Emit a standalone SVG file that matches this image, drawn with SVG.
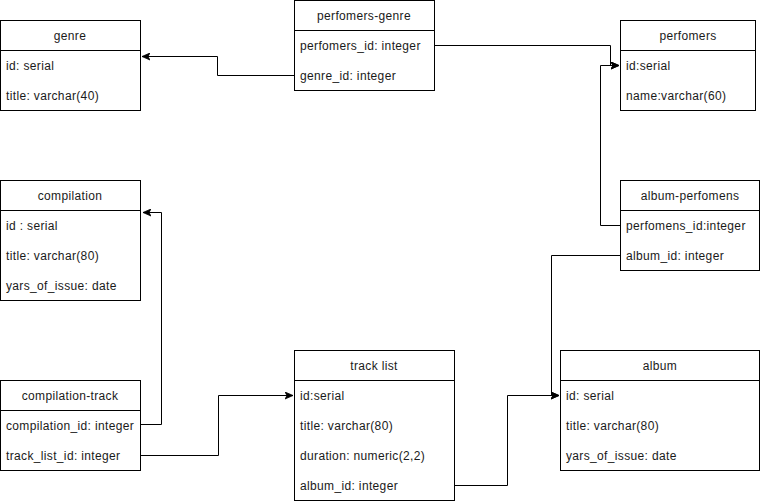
<svg xmlns="http://www.w3.org/2000/svg" width="761" height="501" viewBox="0 0 761 501">
<defs>
<marker id="arr" markerWidth="9" markerHeight="8" refX="8" refY="4" orient="auto" markerUnits="userSpaceOnUse">
<path d="M0,0.5 L8,4 L0,7.5 L2,4 Z" fill="#000" stroke="#000" stroke-width="0.8"/>
</marker>
<style>
.box{fill:#fff;stroke:#000;stroke-width:1}
.hl{stroke:#000;stroke-width:1}
.t{font-family:"Liberation Sans",Arial,Helvetica,sans-serif;font-size:12px;letter-spacing:0.35px;fill:#1a1a1a}
.c{text-anchor:middle}
.e{fill:none;stroke:#000;stroke-width:1;marker-end:url(#arr)}
</style>
</defs>
<rect width="761" height="501" fill="#fff"/>
<g id="connectors">
<path class="e" d="M294,75.5 H217.5 V56.5 H142"/>
<path class="e" d="M434,45.5 H610.5 V65.5 H619"/>
<path class="e" d="M620,225.5 H600.5 V65.5 H619"/>
<path class="e" d="M620,255.5 H551.5 V395.5 H559"/>
<path class="e" d="M454,485.5 H507.5 V395.5 H559"/>
<path class="e" d="M140,424.5 H161.5 V212.5 H143"/>
<path class="e" d="M140,455.5 H218.5 V395.5 H293"/>
</g>
<g id="genre">
<rect class="box" x="0.5" y="20.5" width="140" height="90"/>
<line class="hl" x1="0.5" y1="50.5" x2="140.5" y2="50.5"/>
<text class="t c" x="70" y="40">genre</text>
<text class="t" x="6" y="70">id: serial</text>
<text class="t" x="6" y="100">title: varchar(40)</text>
</g>
<g id="perfomers-genre">
<rect class="box" x="294.5" y="0.5" width="140" height="90"/>
<line class="hl" x1="294.5" y1="30.5" x2="434.5" y2="30.5"/>
<text class="t c" x="364" y="20">perfomers-genre</text>
<text class="t" x="300" y="50">perfomers_id: integer</text>
<text class="t" x="300" y="80">genre_id: integer</text>
</g>
<g id="perfomers">
<rect class="box" x="620.5" y="20.5" width="135" height="90"/>
<line class="hl" x1="620.5" y1="50.5" x2="755.5" y2="50.5"/>
<text class="t c" x="688" y="40">perfomers</text>
<text class="t" x="626" y="70">id:serial</text>
<text class="t" x="626" y="100">name:varchar(60)</text>
</g>
<g id="compilation">
<rect class="box" x="0.5" y="180.5" width="140" height="120"/>
<line class="hl" x1="0.5" y1="210.5" x2="140.5" y2="210.5"/>
<text class="t c" x="70" y="200">compilation</text>
<text class="t" x="6" y="230">id : serial</text>
<text class="t" x="6" y="260">title: varchar(80)</text>
<text class="t" x="6" y="290">yars_of_issue: date</text>
</g>
<g id="album-perfomens">
<rect class="box" x="620.5" y="180.5" width="139" height="90"/>
<line class="hl" x1="620.5" y1="210.5" x2="759.5" y2="210.5"/>
<text class="t c" x="690" y="200">album-perfomens</text>
<text class="t" x="626" y="230">perfomens_id:integer</text>
<text class="t" x="626" y="260">album_id: integer</text>
</g>
<g id="compilation-track">
<rect class="box" x="0.5" y="380.5" width="140" height="90"/>
<line class="hl" x1="0.5" y1="410.5" x2="140.5" y2="410.5"/>
<text class="t c" x="70" y="400">compilation-track</text>
<text class="t" x="6" y="430">compilation_id: integer</text>
<text class="t" x="6" y="460">track_list_id: integer</text>
</g>
<g id="track-list">
<rect class="box" x="294.5" y="350.5" width="160" height="150"/>
<line class="hl" x1="294.5" y1="380.5" x2="454.5" y2="380.5"/>
<text class="t c" x="374" y="370">track list</text>
<text class="t" x="300" y="400">id:serial</text>
<text class="t" x="300" y="430">title: varchar(80)</text>
<text class="t" x="300" y="460">duration: numeric(2,2)</text>
<text class="t" x="300" y="490">album_id: integer</text>
</g>
<g id="album">
<rect class="box" x="560.5" y="350.5" width="199" height="120"/>
<line class="hl" x1="560.5" y1="380.5" x2="759.5" y2="380.5"/>
<text class="t c" x="660" y="370">album</text>
<text class="t" x="566" y="400">id: serial</text>
<text class="t" x="566" y="430">title: varchar(80)</text>
<text class="t" x="566" y="460">yars_of_issue: date</text>
</g>
</svg>
